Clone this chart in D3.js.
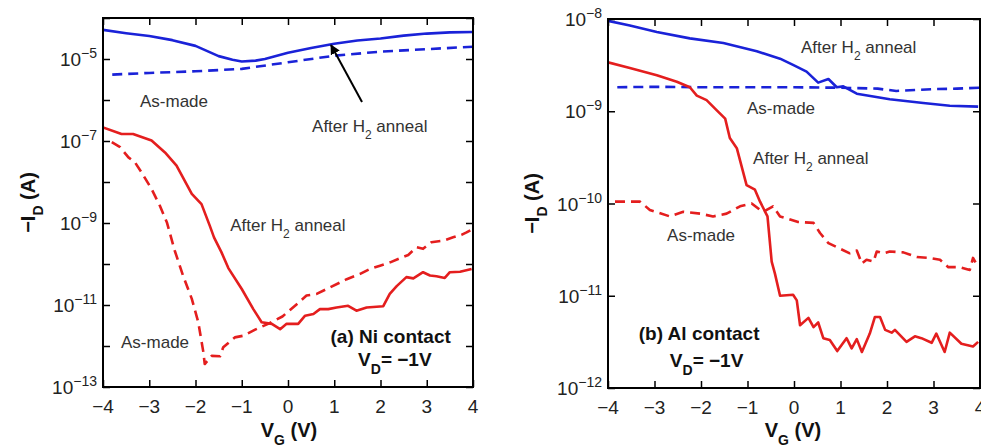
<!DOCTYPE html>
<meta charset="utf-8">
<style>
  body { margin: 0; background: #fff; }
  svg { display: block; font-family: "Liberation Sans", Arial, sans-serif; }
  .tick line { stroke: #000; stroke-width: 1.5; }
  .frame { fill: none; stroke: #000; stroke-width: 2; }
  .curve { fill: none; stroke-width: 2.6; stroke-linejoin: round; }
  .dash { stroke-dasharray: 10, 6; }
  .note { font-size: 17px; fill: #333; }
  .bold { font-size: 19px; font-weight: bold; fill: #111; }
  .ticklab { font-size: 19px; fill: #222; }
</style>
<body>
<svg width="981" height="448"></svg>
<script src="https://d3js.org/d3.v7.min.js"></script>
<script>
// gate voltage ticks
var vgTicks = [-4, -3, -2, -1, 0, 1, 2, 3, 4];

// (a) Ni contact, points are [VG, log10(-ID)]
var niBlueAnneal = [[-4, -4.29], [-3.5, -4.37], [-3, -4.44], [-2.5, -4.54], [-2, -4.68], [-1.5, -4.93],
  [-1.2, -5.02], [-1, -5.06], [-0.7, -5.04], [-0.5, -5.0], [0, -4.85], [0.5, -4.73], [1, -4.63],
  [1.5, -4.55], [2, -4.5], [2.5, -4.43], [3, -4.38], [3.5, -4.35], [4, -4.34]];
var niBlueAsMade = [[-3.8, -5.38], [-3, -5.34], [-2, -5.3], [-1, -5.24], [0, -5.08], [1, -4.92],
  [2, -4.82], [3, -4.76], [4, -4.7]];
var niRedAnneal = [[-4, -6.67], [-3.6, -6.83], [-3.35, -6.83], [-2.95, -6.99], [-2.66, -7.28],
  [-2.41, -7.6], [-2.08, -8.29], [-1.87, -8.54], [-1.69, -9.07], [-1.6, -9.35], [-1.44, -9.71],
  [-1.29, -10.1], [-1.0, -10.61], [-0.75, -11.1], [-0.57, -11.42], [-0.35, -11.46], [-0.17, -11.59],
  [-0.03, -11.46], [0.22, -11.46], [0.37, -11.26], [0.55, -11.22], [0.69, -11.1], [0.87, -11.1],
  [1.05, -11.06], [1.3, -11.02], [1.48, -11.14], [1.7, -11.06], [2.06, -11.03], [2.2, -10.73],
  [2.35, -10.54], [2.56, -10.32], [2.71, -10.35], [2.92, -10.2], [3.07, -10.28], [3.21, -10.3],
  [3.39, -10.34], [3.5, -10.2], [3.72, -10.19], [3.97, -10.12]];
var niRedAsMade = [[-3.81, -7.03], [-3.63, -7.15], [-3.45, -7.4], [-3.31, -7.52], [-3.17, -7.76],
  [-2.95, -8.17], [-2.77, -8.58], [-2.62, -8.98], [-2.45, -9.67], [-2.27, -10.28], [-2.08, -10.85],
  [-1.94, -11.42], [-1.83, -12.15], [-1.8, -12.44], [-1.65, -12.24], [-1.47, -12.25], [-1.4, -12.03],
  [-1.15, -11.79], [-0.97, -11.75], [-0.71, -11.6], [-0.43, -11.46], [-0.12, -11.28], [0.19, -10.98],
  [0.4, -10.77], [0.62, -10.73], [0.91, -10.57], [1.27, -10.37], [1.56, -10.24], [1.77, -10.12],
  [1.99, -10.04], [2.21, -9.96], [2.42, -9.86], [2.6, -9.78], [2.78, -9.59], [2.92, -9.63],
  [3.1, -9.47], [3.36, -9.43], [3.57, -9.35], [3.75, -9.29], [3.86, -9.23], [3.97, -9.16]];

// (b) Al contact, points are [VG, log10(-ID)]
var alBlueAnneal = [[-4, -8.02], [-3.53, -8.07], [-2.95, -8.14], [-2.24, -8.21], [-1.52, -8.26],
  [-0.8, -8.35], [-0.3, -8.43], [-0.01, -8.5], [0.27, -8.57], [0.52, -8.69], [0.74, -8.65],
  [0.92, -8.74], [1.06, -8.73], [1.35, -8.81], [2.06, -8.87], [2.78, -8.91], [3.35, -8.94], [3.96, -8.95]];
var alBlueAsMade = [[-3.8, -8.74], [-3, -8.735], [-2, -8.74], [-1, -8.74], [0, -8.74], [1, -8.745],
  [1.8, -8.755], [2.2, -8.78], [2.6, -8.77], [3, -8.76], [3.5, -8.755], [4, -8.745]];
var alRedAnneal = [[-4, -8.47], [-3.53, -8.53], [-2.95, -8.61], [-2.52, -8.68], [-2.24, -8.74],
  [-2.09, -8.83], [-1.88, -8.88], [-1.66, -8.99], [-1.48, -9.08], [-1.38, -9.29], [-1.23, -9.4],
  [-1.02, -9.8], [-0.84, -9.85], [-0.73, -9.98], [-0.62, -10.09], [-0.57, -10.14], [-0.48, -10.63],
  [-0.41, -10.76], [-0.3, -11.0], [-0.02, -10.99], [0.06, -11.05], [0.13, -11.32], [0.31, -11.24],
  [0.42, -11.34], [0.52, -11.29], [0.63, -11.46], [0.77, -11.48], [0.93, -11.6], [1.13, -11.46],
  [1.24, -11.57], [1.35, -11.47], [1.46, -11.61], [1.63, -11.41], [1.74, -11.23], [1.85, -11.23],
  [1.96, -11.37], [2.1, -11.4], [2.17, -11.37], [2.42, -11.5], [2.6, -11.44], [2.74, -11.46],
  [2.96, -11.51], [3.06, -11.41], [3.24, -11.61], [3.35, -11.4], [3.6, -11.52], [3.85, -11.55], [3.96, -11.5]];
var alRedAsMade = [[-3.85, -9.98], [-3.31, -9.98], [-3.1, -10.07], [-2.67, -10.14], [-2.38, -10.09],
  [-2.02, -10.11], [-1.74, -10.14], [-1.45, -10.11], [-1.16, -10.03], [-0.91, -10.0], [-0.73, -10.07],
  [-0.66, -10.09], [-0.45, -10.03], [-0.3, -10.14], [-0.16, -10.16], [0.09, -10.2], [0.42, -10.21],
  [0.56, -10.32], [0.74, -10.43], [0.99, -10.49], [1.2, -10.54], [1.35, -10.51], [1.46, -10.65],
  [1.56, -10.61], [1.71, -10.63], [1.78, -10.52], [1.92, -10.54], [2.06, -10.52], [2.35, -10.53],
  [2.64, -10.58], [2.92, -10.59], [3.14, -10.61], [3.32, -10.69], [3.57, -10.69], [3.78, -10.72],
  [3.85, -10.59], [3.96, -10.69]];

var blue = "#1a22d8", red = "#e41e1e";

var panels = [
  {
    box: [103, 473, 18, 387], yExp: [-13, -4], labelExp: [-13, -11, -9, -7, -5],
    xTitle: 289, yTitle: 28,
    series: [[niBlueAnneal, blue, false], [niBlueAsMade, blue, true], [niRedAnneal, red, false], [niRedAsMade, red, true]],
    notes: [
      ["As-made", -3.2, -6.02, "start"], ["After H|2| anneal", 0.52, -6.63, "start"],
      ["After H|2| anneal", -1.25, -9.05, "start"], ["As-made", -3.61, -11.9, "start"]
    ],
    bold: [["(a) Ni contact", 2.22, -11.76], ["V|D|= \u22121V", 2.31, -12.32]],
    arrow: [[1.6, -6.05], [0.93, -4.66]]
  },
  {
    box: [608, 980, 19, 388], yExp: [-12, -8], labelExp: [-12, -11, -10, -9, -8],
    xTitle: 793, yTitle: 532,
    series: [[alBlueAnneal, blue, false], [alBlueAsMade, blue, true], [alRedAnneal, red, false], [alRedAsMade, red, true]],
    notes: [
      ["After H|2| anneal", 0.15, -8.3, "start"], ["As-made", -1.01, -8.965, "start"],
      ["After H|2| anneal", -0.88, -9.51, "start"], ["As-made", -2.73, -10.34, "start"]
    ],
    bold: [["(b) Al contact", -2.04, -11.41], ["V|D|= \u22121V", -1.88, -11.7]],
    arrow: null
  }
];

var svg = d3.select("svg");
svg.append("defs").append("marker")
    .attr("id", "head").attr("viewBox", "0 0 10 10").attr("refX", 9).attr("refY", 5)
    .attr("markerWidth", 5).attr("markerHeight", 5).attr("orient", "auto")
  .append("path").attr("d", "M0,0 L10,5 L0,10 z").attr("fill", "#000");

// text with |sub| parts
function richText(sel, str, subSize) {
  str.split("|").forEach(function(part, i) {
    if (!part) return;
    var t = sel.append("tspan").text(part);
    if (i % 2 == 1) t.attr("baseline-shift", "sub").style("font-size", subSize);
  });
}

panels.forEach(function(p) {
  var x = d3.scaleLinear().domain([-4, 4]).range([p.box[0], p.box[1]]);
  var y = d3.scaleLog().domain([Math.pow(10, p.yExp[0]), Math.pow(10, p.yExp[1])]).range([p.box[3], p.box[2]]);
  var decades = d3.range(p.yExp[0], p.yExp[1] + 1).map(function(e) { return Math.pow(10, e); });
  var g = svg.append("g");

  var clip = "clip" + p.box[0];
  svg.select("defs").append("clipPath").attr("id", clip)
    .append("rect").attr("x", p.box[0]).attr("y", p.box[2])
    .attr("width", p.box[1] - p.box[0]).attr("height", p.box[3] - p.box[2]);

  var line = d3.line()
      .x(function(d) { return x(d[0]); })
      .y(function(d) { return y(Math.pow(10, d[1])); });

  p.series.forEach(function(s) {
    g.append("path").attr("class", "curve" + (s[2] ? " dash" : ""))
      .attr("clip-path", "url(#" + clip + ")")
      .attr("stroke", s[1]).attr("d", line(s[0]));
  });

  // ticks on all four sides, pointing inward
  g.append("g").attr("transform", "translate(0," + p.box[3] + ")")
    .call(d3.axisBottom(x).tickValues(vgTicks).tickSize(-7).tickFormat(""));
  g.append("g").attr("transform", "translate(0," + p.box[2] + ")")
    .call(d3.axisTop(x).tickValues(vgTicks).tickSize(-7).tickFormat(""));
  g.append("g").attr("transform", "translate(" + p.box[0] + ",0)")
    .call(d3.axisLeft(y).tickValues(decades).tickSize(-7).tickFormat(""));
  g.append("g").attr("transform", "translate(" + p.box[1] + ",0)")
    .call(d3.axisRight(y).tickValues(decades).tickSize(-7).tickFormat(""));
  g.selectAll(".domain").remove();
  g.append("rect").attr("class", "frame")
    .attr("x", p.box[0]).attr("y", p.box[2])
    .attr("width", p.box[1] - p.box[0]).attr("height", p.box[3] - p.box[2]);

  // tick labels
  g.selectAll(".xlab").data(vgTicks).enter().append("text")
    .attr("class", "ticklab").attr("text-anchor", "middle")
    .attr("x", function(d) { return x(d); }).attr("y", p.box[3] + 26)
    .text(function(d) { return d < 0 ? "\u2212" + (-d) : d; });

  g.selectAll(".ylab").data(p.labelExp).enter().append("text")
    .attr("class", "ticklab").attr("text-anchor", "end")
    .attr("x", p.box[0] - 6).attr("y", function(d) { return y(Math.pow(10, d)) + 7; })
    .each(function(d) {
      var t = d3.select(this);
      t.append("tspan").text("10");
      t.append("tspan").attr("dy", -8).style("font-size", "14px").text("\u2212" + (-d));
    });

  // axis titles
  var xt = g.append("text").attr("class", "bold").attr("text-anchor", "middle")
    .attr("x", p.xTitle).attr("y", 437).style("font-size", "20px");
  richText(xt, "V|G| (V)", "14px");
  var yt = g.append("text").attr("class", "bold").attr("text-anchor", "middle")
    .attr("transform", "translate(" + (p.yTitle + 7) + "," + ((p.box[2] + p.box[3]) / 2) + ") rotate(-90)")
    .style("font-size", "20px");
  richText(yt, "\u2212I|D| (A)", "14px");

  // annotations
  p.notes.forEach(function(n) {
    var t = g.append("text").attr("class", "note").attr("text-anchor", n[3])
      .attr("x", x(n[1])).attr("y", y(Math.pow(10, n[2]))).attr("dy", "0.35em");
    richText(t, n[0], "12px");
  });
  p.bold.forEach(function(n) {
    var t = g.append("text").attr("class", "bold").attr("text-anchor", "middle")
      .attr("x", x(n[1])).attr("y", y(Math.pow(10, n[2]))).attr("dy", "0.35em");
    richText(t, n[0], "14px");
  });
  if (p.arrow) {
    g.append("line").attr("stroke", "#000").attr("stroke-width", 2)
      .attr("marker-end", "url(#head)")
      .attr("x1", x(p.arrow[0][0])).attr("y1", y(Math.pow(10, p.arrow[0][1])))
      .attr("x2", x(p.arrow[1][0])).attr("y2", y(Math.pow(10, p.arrow[1][1])));
  }
});
</script>
</body>
